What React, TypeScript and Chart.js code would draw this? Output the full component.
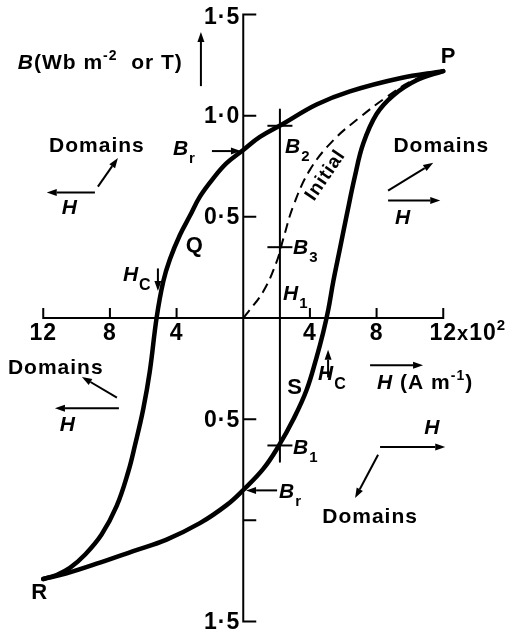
import React, { useEffect, useRef } from "react";
import { Chart, registerables } from "chart.js";

Chart.register(...registerables);

// H in units of 10^2 A/m, B in T (Wb m^-2)

// Descending branch P -> Br -> Hc -> R, listed in ascending H
const upperBranchH = [-12, -11.2, -10.4, -9.5, -8.5, -7.6, -6.9, -6.5, -6.0, -5.6, -5.2, -4.8, -4.4, -3.8, -3.2, -2.6, -1.8, -1.0, 0, 1.0, 2.4, 4.4, 6.4, 9.4, 12];
const upperBranchB = [-1.29, -1.27, -1.235, -1.17, -1.07, -0.93, -0.76, -0.63, -0.45, -0.26, 0.0, 0.18, 0.29, 0.41, 0.505, 0.6, 0.69, 0.765, 0.83, 0.895, 0.96, 1.055, 1.12, 1.185, 1.22];

// Ascending branch R -> -Br -> Hc -> P
const lowerBranchH = [-12, -10.6, -8.6, -6.6, -4.6, -2.6, -1.0, 0, 1.2, 2.1, 3.0, 3.8, 4.4, 4.8, 5.1, 5.4, 5.8, 6.2, 6.7, 7.2, 8.0, 9.0, 10.4, 12];
const lowerBranchB = [-1.29, -1.262, -1.209, -1.152, -1.095, -1.014, -0.925, -0.85, -0.746, -0.636, -0.502, -0.356, -0.194, -0.07, 0.04, 0.18, 0.342, 0.505, 0.7, 0.862, 1.008, 1.1, 1.175, 1.22];

// Initial magnetisation curve from the origin to P
const initialH = [0, 0.2, 1.2, 2.0, 2.4, 3.0, 4.0, 5.4, 7.0, 8.6, 10.2, 12];
const initialB = [0, 0.02, 0.131, 0.277, 0.391, 0.553, 0.732, 0.878, 0.992, 1.092, 1.175, 1.22];

const h1Value = 2.2;
const h1Span = [1.03, -0.71];
const h1Readings = [0.95, 0.35, -0.63]; // B2, B3, B1

// Axis ticks
const xTickValues = [-12, -8, -4, 4, 8, 12];
const xTickLabels = ["12", "8", "4", "4", "8", "12"];
const yTickValues = [1.5, 1.0, 0.5, -0.5, -1.0, -1.5];
const yTickLabels = ["1·5", "1·0", "0·5", "0·5", "", "1·5"];

const FONT = '"Liberation Sans", Arial, Helvetica, sans-serif';
const INK = "#000";

type Seg = { t: string; italic?: boolean; size?: number; dy?: number };
type Label = { segs: Seg[]; h: number; b: number; align?: "left" | "center"; rotate?: number };

const sub = (t: string, size = 15, dy = 8): Seg => ({ t, size, dy });
const sup = (t: string, size = 14, dy = -9): Seg => ({ t, size, dy });

// Annotation anchors, in (H, B) units
const labels: Label[] = [
  { segs: [{ t: "P", size: 22 }], h: 12.32, b: 1.258, align: "center" },
  { segs: [{ t: "R", size: 22 }], h: -12.21, b: -1.387, align: "center" },
  { segs: [{ t: "Q", size: 22 }], h: -2.9, b: 0.328, align: "center" },
  { segs: [{ t: "S", size: 22 }], h: 3.11, b: -0.374, align: "center" },
  { segs: [{ t: "Initial", size: 19 }], h: 4.85, b: 0.71, align: "center", rotate: -56 },
  { segs: [{ t: "Domains" }], h: -8.78, b: 0.82, align: "center" },
  { segs: [{ t: "Domains" }], h: 11.88, b: 0.82, align: "center" },
  { segs: [{ t: "Domains" }], h: -11.25, b: -0.276, align: "center" },
  { segs: [{ t: "Domains" }], h: 7.61, b: -1.012, align: "center" },
  { segs: [{ t: "H", italic: true }], h: -10.41, b: 0.513, align: "center" },
  { segs: [{ t: "H", italic: true }], h: 9.59, b: 0.464, align: "center" },
  { segs: [{ t: "H", italic: true }], h: -10.53, b: -0.559, align: "center" },
  { segs: [{ t: "H", italic: true }], h: 11.34, b: -0.574, align: "center" },
  { segs: [{ t: "B", italic: true }, sub("r")], h: -4.22, b: 0.805 },
  { segs: [{ t: "B", italic: true }, sub("r")], h: 2.15, b: -0.89 },
  { segs: [{ t: "H", italic: true }, sub("C", 16, 9)], h: -7.22, b: 0.182 },
  { segs: [{ t: "H", italic: true }, sub("C", 16, 9)], h: 4.49, b: -0.306 },
  { segs: [{ t: "B", italic: true }, sub("2")], h: 2.51, b: 0.815 },
  { segs: [{ t: "B", italic: true }, sub("3")], h: 2.99, b: 0.318 },
  { segs: [{ t: "B", italic: true }, sub("1")], h: 2.99, b: -0.671 },
  { segs: [{ t: "H", italic: true }, sub("1")], h: 2.39, b: 0.089 },
  {
    segs: [{ t: "B", italic: true }, { t: "(Wb m" }, sup("-2"), { t: "  or T)" }],
    h: -13.53,
    b: 1.229,
  },
  { segs: [{ t: "H", italic: true }, { t: " (A m" }, sup("-1"), { t: ")" }], h: 8.03, b: -0.35 },
];

// Arrows [fromH, fromB, toH, toB]; head at the second point
const arrows: [number, number, number, number][] = [
  [-8.72, 0.649, -7.52, 0.791],
  [-8.9, 0.62, -11.79, 0.62],
  [8.69, 0.63, 11.4, 0.767],
  [8.69, 0.581, 11.82, 0.581],
  [-7.58, -0.394, -9.68, -0.291],
  [-7.46, -0.446, -11.3, -0.446],
  [8.21, -0.637, 12.12, -0.637],
  [8.09, -0.676, 6.71, -0.89],
  [-2.54, 1.146, -2.54, 1.414],
  [7.61, -0.233, 10.79, -0.233],
  [-1.88, 0.825, -0.14, 0.825],
  [2.03, -0.852, 0.17, -0.852],
  [-5.12, 0.245, -5.12, 0.133],
  [5.09, -0.294, 5.09, -0.157],
];

function fontOf(s: Seg) {
  const size = s.size ?? 21;
  return `${s.italic ? "italic " : ""}bold ${size}px ${FONT}`;
}

function drawRich(ctx: CanvasRenderingContext2D, x: number, y: number, segs: Seg[], align: "left" | "center" = "left") {
  const widths = segs.map((s) => {
    ctx.font = fontOf(s);
    return ctx.measureText(s.t).width;
  });
  const total = widths.reduce((a, w) => a + w, 0);
  let cx = align === "center" ? x - total / 2 : x;
  ctx.textAlign = "left";
  ctx.textBaseline = "alphabetic";
  segs.forEach((s, i) => {
    ctx.font = fontOf(s);
    ctx.fillText(s.t, cx, y + (s.dy ?? 0));
    cx += widths[i];
  });
}

function drawArrow(ctx: CanvasRenderingContext2D, x1: number, y1: number, x2: number, y2: number) {
  const head = 10;
  const half = 3.5;
  const a = Math.atan2(y2 - y1, x2 - x1);
  const bx = x2 - head * Math.cos(a);
  const by = y2 - head * Math.sin(a);
  ctx.lineWidth = 2;
  ctx.beginPath();
  ctx.moveTo(x1, y1);
  ctx.lineTo(bx, by);
  ctx.stroke();
  ctx.beginPath();
  ctx.moveTo(x2, y2);
  ctx.lineTo(bx + half * Math.sin(a), by - half * Math.cos(a));
  ctx.lineTo(bx - half * Math.sin(a), by + half * Math.cos(a));
  ctx.closePath();
  ctx.fill();
}

const hysteresisPlugin = {
  id: "hysteresisDecor",
  beforeDraw(chart: any) {
    const ctx = chart.ctx as CanvasRenderingContext2D;
    ctx.save();
    ctx.fillStyle = "#fff";
    ctx.fillRect(0, 0, chart.width, chart.height);
    ctx.restore();
  },
  beforeDatasetsDraw(chart: any) {
    const ctx = chart.ctx as CanvasRenderingContext2D;
    const xs = chart.scales.x;
    const ys = chart.scales.y;
    const X = (v: number) => xs.getPixelForValue(v);
    const Y = (v: number) => ys.getPixelForValue(v);
    ctx.save();
    ctx.strokeStyle = INK;
    ctx.fillStyle = INK;
    ctx.lineWidth = 2;
    ctx.lineCap = "butt";

    // H axis with upward ticks
    const y0 = Y(0);
    ctx.beginPath();
    ctx.moveTo(X(-12) - 1, y0);
    ctx.lineTo(X(12) + 1, y0);
    xTickValues.forEach((v) => {
      ctx.moveTo(X(v), y0);
      ctx.lineTo(X(v), y0 - 10);
    });
    ctx.stroke();

    // B axis with ticks to the right
    const x0 = X(0);
    ctx.beginPath();
    ctx.moveTo(x0, Y(1.5) - 1);
    ctx.lineTo(x0, Y(-1.5) + 1);
    yTickValues.forEach((v) => {
      ctx.moveTo(x0, Y(v));
      ctx.lineTo(x0 + 13, Y(v));
    });
    ctx.stroke();

    ctx.letterSpacing = "1px";
    // H tick labels
    xTickValues.forEach((v, i) => {
      const first: Seg = { t: xTickLabels[i], size: 23 };
      if (i === xTickValues.length - 1) {
        ctx.font = fontOf(first);
        const w = ctx.measureText(xTickLabels[i]).width;
        drawRich(ctx, X(v) - w / 2, y0 + 22, [first, { t: "x", size: 20 }, { t: "10", size: 23 }, { t: "2", size: 15, dy: -10 }]);
      } else {
        drawRich(ctx, X(v), y0 + 22, [first], "center");
      }
    });
    // B tick labels
    yTickValues.forEach((v, i) => {
      if (!yTickLabels[i]) return;
      ctx.font = fontOf({ t: "", size: 23 });
      ctx.textAlign = "right";
      ctx.textBaseline = "middle";
      ctx.fillText(yTickLabels[i], x0 - 3, Y(v) + (i === 0 ? 3 : 1));
    });
    ctx.restore();
  },
  afterDatasetsDraw(chart: any) {
    const ctx = chart.ctx as CanvasRenderingContext2D;
    const xs = chart.scales.x;
    const ys = chart.scales.y;
    const X = (v: number) => xs.getPixelForValue(v);
    const Y = (v: number) => ys.getPixelForValue(v);
    ctx.save();
    ctx.strokeStyle = INK;
    ctx.fillStyle = INK;
    arrows.forEach(([h1, b1, h2, b2]) => drawArrow(ctx, X(h1), Y(b1), X(h2), Y(b2)));
    ctx.letterSpacing = "1px";
    labels.forEach((l) => {
      const px = X(l.h);
      const py = Y(l.b);
      if (l.rotate) {
        ctx.save();
        ctx.translate(px, py);
        ctx.rotate((l.rotate * Math.PI) / 180);
        drawRich(ctx, 0, 7, l.segs, "center");
        ctx.restore();
      } else {
        drawRich(ctx, px, py, l.segs, l.align ?? "left");
      }
    });
    ctx.restore();
  },
};

const toPoints = (hs: number[], bs: number[]) => hs.map((h, i) => ({ x: h, y: bs[i] }));

export default function App() {
  const canvasRef = useRef<HTMLCanvasElement>(null);

  useEffect(() => {
    const canvas = canvasRef.current;
    if (!canvas) return;
    const curve = {
      showLine: true,
      borderColor: INK,
      backgroundColor: INK,
      pointRadius: 0,
      fill: false,
      clip: false as const,
      tension: 0.4,
      borderCapStyle: "round" as const,
      borderJoinStyle: "round" as const,
    };
    const chart = new Chart(canvas, {
      type: "scatter",
      data: {
        datasets: [
          { ...curve, label: "Initial", data: toPoints(initialH, initialB), borderWidth: 2, borderDash: [10, 6], borderCapStyle: "butt" as const },
          { ...curve, label: "Descending", data: toPoints(upperBranchH, upperBranchB), borderWidth: 4.5 },
          { ...curve, label: "Ascending", data: toPoints(lowerBranchH, lowerBranchB), borderWidth: 4.5 },
          {
            ...curve,
            label: "H1",
            data: h1Span.map((b) => ({ x: h1Value, y: b })),
            borderWidth: 2,
            tension: 0,
            borderCapStyle: "butt" as const,
          },
          {
            label: "Readings",
            data: h1Readings.map((b) => ({ x: h1Value, y: b })),
            showLine: false,
            pointStyle: "line",
            pointRadius: 12.5,
            borderWidth: 2,
            borderColor: INK,
            backgroundColor: INK,
            clip: false as const,
          },
        ],
      },
      options: {
        responsive: false,
        animation: false,
        devicePixelRatio: 1,
        events: [],
        layout: { padding: { left: 43.25, right: 68.75, top: 12.5, bottom: 8 } },
        scales: {
          x: { type: "linear", min: -12, max: 12, display: false },
          y: { type: "linear", min: -1.5, max: 1.5, display: false },
        },
        plugins: { legend: { display: false }, tooltip: { enabled: false } },
      },
      plugins: [hysteresisPlugin],
    });
    return () => chart.destroy();
  }, []);

  return (
    <div style={{ position: "fixed", left: 0, top: 0, width: 512, height: 636, background: "#fff" }}>
      <canvas ref={canvasRef} width={512} height={636} style={{ display: "block" }} />
    </div>
  );
}
